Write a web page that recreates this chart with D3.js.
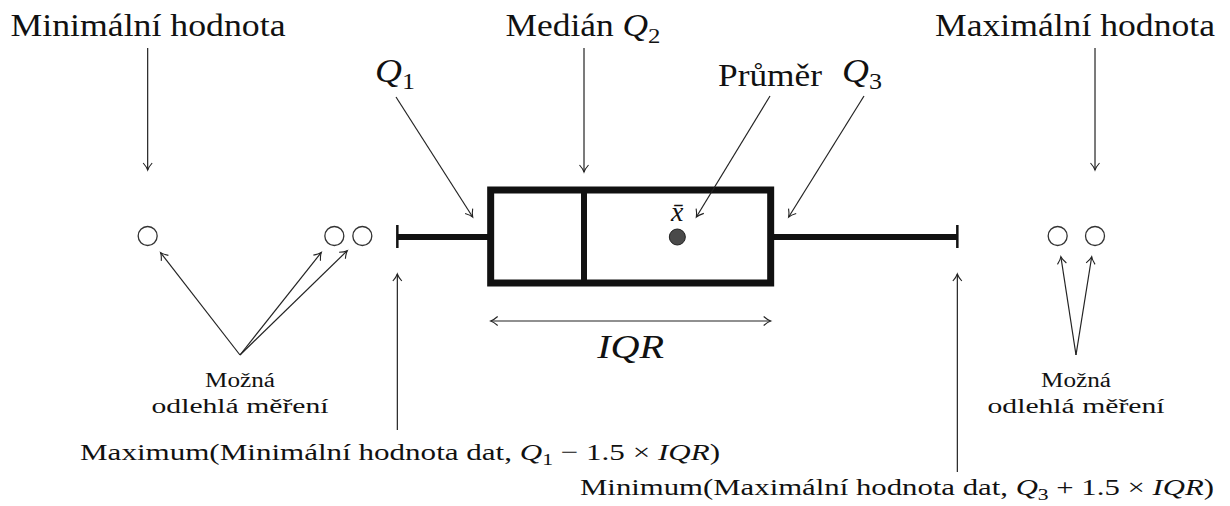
<!DOCTYPE html>
<html lang="cs">
<head>
<meta charset="UTF-8">
<title>Krabicový graf</title>
<style>
  body { margin: 0; background: #fff; }
  svg text { fill: #111; white-space: pre; }
</style>
</head>
<body>
<svg id="chart" width="1230" height="506"></svg>
<script src="https://d3js.org/d3.v7.min.js"></script>
<script>
// box plot statistics (arbitrary units)
var whiskers = [8, 20];          // lower / upper whisker end
var quartiles = [10, 12, 16];    // Q1, median Q2, Q3
var meanValue = 14;
var lowOutliers = [2.65, 6.65, 7.25];
var highOutliers = [22.15, 22.95];
var valueDomain = [0, 26];

// label texts, split into segments: n = normal, it = math italic, sub = subscript
var txtMin = [["Minimální hodnota", "n"]];
var txtMedian = [["Medián ", "n"], ["Q", "it"], ["2", "sub"]];
var txtMax = [["Maximální hodnota", "n"]];
var txtQ1 = [["Q", "it"], ["1", "sub"]];
var txtQ3 = [["Q", "it"], ["3", "sub"]];
var txtMean = [["Průměr", "n"]];
var txtMeanSym = [["x\u0304", "it"]];
var txtIQR = [["IQR", "it"]];
var txtOutliers = ["Možná", "odlehlá měření"];
var txtLowFence = [["Maximum(Minimální hodnota dat, ", "n"], ["Q", "it"], ["1", "sub"], [" \u2212 1.5 \u00d7 ", "n"], ["IQR", "it"], [")", "n"]];
var txtHighFence = [["Minimum(Maximální hodnota dat, ", "n"], ["Q", "it"], ["3", "sub"], [" + 1.5 \u00d7 ", "n"], ["IQR", "it"], [")", "n"]];

var svg = d3.select("#chart");
var ink = "#111";
var yMid = 237;
var serif = "'Liberation Serif', 'DejaVu Serif', 'Noto Serif', serif";

var x = d3.scaleLinear().domain(valueDomain).range([24, 24 + 26 * 46.667]);

var defs = svg.append("defs");
defs.append("marker")
    .attr("id", "tip")
    .attr("viewBox", "-9 -6 11 12")
    .attr("refX", 0).attr("refY", 0)
    .attr("markerWidth", 11).attr("markerHeight", 12)
    .attr("markerUnits", "userSpaceOnUse")
    .attr("orient", "auto-start-reverse")
    .append("path")
    .attr("d", "M-7,-4.5 Q-3,-1 0,0 Q-3,1 -7,4.5")
    .attr("fill", "none")
    .attr("stroke", "#222")
    .attr("stroke-width", 1.1);

function arrow(x1, y1, x2, y2, both) {
    var l = svg.append("line")
        .attr("x1", x1).attr("y1", y1).attr("x2", x2).attr("y2", y2)
        .attr("stroke", "#222").attr("stroke-width", 1.2)
        .attr("marker-end", "url(#tip)");
    if (both) l.attr("marker-start", "url(#tip)");
}

// arrow from (sx,sy) toward a circle centre, stopping a bit short of it
function arrowTo(sx, sy, cx, cy, gap) {
    var dx = cx - sx, dy = cy - sy, len = Math.sqrt(dx * dx + dy * dy);
    arrow(sx, sy, cx - dx / len * gap, cy - dy / len * gap);
}

function buildText(parts, fs) {
    var t = svg.append("text").attr("font-size", fs).attr("font-family", serif);
    var shift = 0;
    parts.forEach(function (p) {
        var ts = t.append("tspan").text(p[0]);
        if (p[1] === "it") ts.attr("font-style", "italic");
        if (p[1] === "sub") {
            ts.attr("font-size", fs * 0.7).attr("dy", fs * 0.22 - shift);
            shift = fs * 0.22;
        } else if (shift) {
            ts.attr("dy", -shift);
            shift = 0;
        }
    });
    return t;
}

// label at font size fs, stretched to the reference width (the original is set in a wide serif face)
function label(parts, px, y, width, anchor, fs) {
    var t = buildText(parts, fs);
    var x0 = px;
    if (width) {
        t.attr("textLength", width).attr("lengthAdjust", "spacingAndGlyphs");
        if (anchor === "middle") x0 = px - width / 2;
        if (anchor === "end") x0 = px - width;
    } else {
        t.attr("text-anchor", anchor);
    }
    t.attr("x", x0).attr("y", y);
    return t;
}

// ---- box plot ----
svg.append("line")
    .attr("x1", x(whiskers[0])).attr("x2", x(quartiles[0]))
    .attr("y1", yMid).attr("y2", yMid)
    .attr("stroke", ink).attr("stroke-width", 6);
svg.append("line")
    .attr("x1", x(quartiles[2])).attr("x2", x(whiskers[1]))
    .attr("y1", yMid).attr("y2", yMid)
    .attr("stroke", ink).attr("stroke-width", 6);
whiskers.forEach(function (w) {
    svg.append("line")
        .attr("x1", x(w)).attr("x2", x(w))
        .attr("y1", yMid - 12).attr("y2", yMid + 11)
        .attr("stroke", ink).attr("stroke-width", 2.5);
});
svg.append("rect")
    .attr("x", x(quartiles[0])).attr("y", 190)
    .attr("width", x(quartiles[2]) - x(quartiles[0]))
    .attr("height", 93)
    .attr("fill", "#fff")
    .attr("stroke", ink).attr("stroke-width", 7);
svg.append("line")
    .attr("x1", x(quartiles[1])).attr("x2", x(quartiles[1]))
    .attr("y1", 190).attr("y2", 283)
    .attr("stroke", ink).attr("stroke-width", 6);
svg.append("circle")
    .attr("cx", x(meanValue)).attr("cy", yMid).attr("r", 8)
    .attr("fill", "#4a4a4a").attr("stroke", "#222").attr("stroke-width", 1);

svg.selectAll("circle.out")
    .data(lowOutliers.concat(highOutliers))
    .enter().append("circle")
    .attr("class", "out")
    .attr("cx", function (d) { return x(d); })
    .attr("cy", yMid - 1)
    .attr("r", 9.5)
    .attr("fill", "#fff")
    .attr("stroke", "#333").attr("stroke-width", 1.3);

// ---- annotations ----
label(txtMin, 148, 36, 275, "middle", 31);
arrow(x(lowOutliers[0]), 48, x(lowOutliers[0]), 170);

label(txtMedian, 583, 36, 155, "middle", 31);
arrow(x(quartiles[1]), 48, x(quartiles[1]), 172);

label(txtMax, 1075, 36, 280, "middle", 31);
arrow(x(highOutliers[1]), 48, x(highOutliers[1]), 170);

label(txtQ1, 375, 82, 40, "start", 33);
arrow(396, 97, x(quartiles[0]) - 18, 217);

label(txtMean, 718, 86, 104, "start", 31);
arrow(770, 96, x(meanValue) + 19, 217);

label(txtQ3, 842, 82, 40, "start", 33);
arrow(864, 96, x(quartiles[2]) + 18, 217);

label(txtMeanSym, x(meanValue), 221, 0, "middle", 28);

arrow(x(quartiles[0]), 321, x(quartiles[2]), 321, true);
label(txtIQR, (x(quartiles[0]) + x(quartiles[2])) / 2, 358, 67, "middle", 34);

lowOutliers.forEach(function (d) { arrowTo(240, 355, x(d), yMid - 1, 21); });
highOutliers.forEach(function (d) { arrowTo(1076, 355, x(d), yMid - 1, 21); });

[240, 1076].forEach(function (cx) {
    label([[txtOutliers[0], "n"]], cx, 387, 70, "middle", 20);
    label([[txtOutliers[1], "n"]], cx, 413, 177, "middle", 20);
});

arrow(x(whiskers[0]), 430, x(whiskers[0]), 274);
label(txtLowFence, 80, 460, 640, "start", 24);

arrow(x(whiskers[1]), 472, x(whiskers[1]), 274);
label(txtHighFence, 1214, 495, 634, "end", 24);
</script>
</body>
</html>
